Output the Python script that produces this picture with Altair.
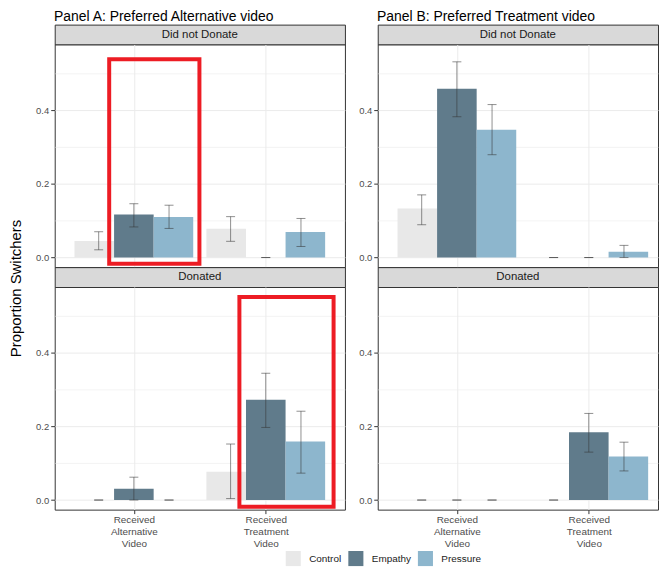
import altair as alt
import pandas as pd

FONT = "Liberation Sans"

panel_keys = ["A", "B"]
panel_titles = ["Panel A: Preferred Alternative video", "Panel B: Preferred Treatment video"]
row_labels = ["Did not Donate", "Donated"]
video_lines = [["Received", "Alternative", "Video"], ["Received", "Treatment", "Video"]]
groups = ["Control", "Empathy", "Pressure"]
colors = ["#E8E8E8", "#607B8B", "#8DB6CD"]

# order in each list: Alternative video (Control, Empathy, Pressure), Treatment video (Control, Empathy, Pressure)
a_notdon_mean = [0.045, 0.117, 0.110, 0.078, 0.0, 0.069]
a_notdon_lo = [0.021, 0.083, 0.079, 0.044, 0.0, 0.030]
a_notdon_hi = [0.070, 0.146, 0.142, 0.111, 0.0, 0.106]

a_don_mean = [0.0, 0.031, 0.0, 0.077, 0.272, 0.159]
a_don_lo = [0.0, 0.0, 0.0, 0.004, 0.197, 0.073]
a_don_hi = [0.0, 0.062, 0.0, 0.152, 0.344, 0.241]

b_notdon_mean = [0.133, 0.458, 0.347, 0.0, 0.0, 0.016]
b_notdon_lo = [0.089, 0.382, 0.279, 0.0, 0.0, 0.0]
b_notdon_hi = [0.170, 0.531, 0.415, 0.0, 0.0, 0.033]

b_don_mean = [0.0, 0.0, 0.0, 0.0, 0.184, 0.118]
b_don_lo = [0.0, 0.0, 0.0, 0.0, 0.130, 0.079]
b_don_hi = [0.0, 0.0, 0.0, 0.0, 0.235, 0.157]

# highlighted regions (red boxes)
hl_panel = ["A", "A"]
hl_row = ["Did not Donate", "Donated"]
hl_x1 = [0.813, 1.80]
hl_x2 = [1.497, 2.514]
hl_y1 = [-0.017, -0.018]
hl_y2 = [0.538, 0.551]

series = {
    ("A", "Did not Donate"): (a_notdon_mean, a_notdon_lo, a_notdon_hi),
    ("A", "Donated"): (a_don_mean, a_don_lo, a_don_hi),
    ("B", "Did not Donate"): (b_notdon_mean, b_notdon_lo, b_notdon_hi),
    ("B", "Donated"): (b_don_mean, b_don_lo, b_don_hi),
}

BAR_DODGE = 0.3
ERR_DODGE = 0.8 / 3
BAR_HALF = 0.15
CAP_HALF = 0.034

recs = []
for (p, r), (m, lo, hi) in series.items():
    for i in range(6):
        vid = i // 3 + 1
        gi = i % 3
        xc = vid + (gi - 1) * BAR_DODGE
        xe = vid + (gi - 1) * ERR_DODGE
        recs.append(dict(panel=p, row=r, group=groups[gi], mean=m[i], lo=lo[i], hi=hi[i],
                         xl=xc - BAR_HALF, xr=xc + BAR_HALF, xe=xe,
                         cl=xe - CAP_HALF, cr=xe + CAP_HALF))
df = pd.DataFrame(recs)
hl = pd.DataFrame(dict(panel=hl_panel, row=hl_row, x1=hl_x1, x2=hl_x2, y1=hl_y1, y2=hl_y2))

# panel B is cut at the right edge of the picture, like in the reference
WIDTHS = {"A": 292, "B": 282}
XDOMAINS = {"A": [0.4, 2.6], "B": [0.4, 0.4 + 282 * 2.2 / 292]}
H = 224
STRIP_H = 20

ys = alt.Scale(domain=[-0.026, 0.578], nice=False, zero=False)

label_expr = "datum.value == 1 ? {} : {}".format(
    "[" + ",".join("'%s'" % s for s in video_lines[0]) + "]",
    "[" + ",".join("'%s'" % s for s in video_lines[1]) + "]",
)

legend = alt.Legend(title=None, orient="none", direction="horizontal", legendX=232, legendY=529,
                    symbolType="square", symbolSize=230, symbolStrokeWidth=0, labelFontSize=10,
                    labelFont=FONT, labelColor="#1A1A1A", columnPadding=6, labelOffset=8,
                    padding=0)
color = alt.Color("group:N", scale=alt.Scale(domain=groups, range=colors), legend=legend)

major = "round(datum.value*10) % 2 == 0"


def make_plot(p, r, bottom, first_panel):
    W = WIDTHS[p]
    xs = alt.Scale(domain=XDOMAINS[p], nice=False, zero=False)
    d = df[(df.panel == p) & (df.row == r)]
    xaxis = alt.Axis(values=[1, 2], labelExpr=label_expr, grid=True, gridColor="#EBEBEB",
                     ticks=bottom, labels=bottom, domain=False, title=None, tickColor="#333333",
                     tickSize=4, labelFontSize=10, labelColor="#4D4D4D", labelFont=FONT,
                     labelLineHeight=12, labelPadding=1, labelBaseline="top")
    yaxis_kwargs = dict(values=[0, 0.1, 0.2, 0.3, 0.4, 0.5],
                        labelExpr=major + " ? format(datum.value, '.1f') : ''",
                        grid=True, gridColor="#EBEBEB",
                        gridWidth={"condition": {"test": major, "value": 1}, "value": 0.6},
                        tickOpacity={"condition": {"test": major, "value": 1}, "value": 0},
                        tickColor="#333333", tickSize=4, domain=False,
                        labelFontSize=9.5, labelColor="#4D4D4D", labelFont=FONT, labelPadding=2)
    if first_panel:
        yaxis = alt.Axis(title="Proportion Switchers", titleFontSize=15, titleFont=FONT,
                         titleFontWeight="normal", titleColor="#000000", titlePadding=12,
                         titleOpacity=1 if bottom else 0, titleY=1 if bottom else H / 2,
                         **yaxis_kwargs)
    else:
        yaxis = alt.Axis(title=None, **yaxis_kwargs)

    base = alt.Chart(d)
    bars = base.mark_rect().encode(
        x=alt.X("xl:Q", scale=xs, axis=xaxis),
        x2="xr:Q",
        y=alt.Y("mean:Q", scale=ys, axis=yaxis),
        y2=alt.datum(0),
        color=color,
    )
    err = base.mark_rule(color="#333333", opacity=0.55, strokeWidth=1).encode(
        x=alt.X("xe:Q", scale=xs), y=alt.Y("lo:Q", scale=ys), y2="hi:Q")
    cap_lo = base.mark_rule(color="#333333", opacity=0.55, strokeWidth=1).encode(
        x=alt.X("cl:Q", scale=xs), x2="cr:Q", y=alt.Y("lo:Q", scale=ys))
    cap_hi = base.mark_rule(color="#333333", opacity=0.55, strokeWidth=1).encode(
        x=alt.X("cl:Q", scale=xs), x2="cr:Q", y=alt.Y("hi:Q", scale=ys))
    layers = [bars, err, cap_lo, cap_hi]
    h = hl[(hl.panel == p) & (hl.row == r)]
    if len(h):
        box = alt.Chart(h).mark_rect(fillOpacity=0, stroke="#ED1C24", strokeWidth=4).encode(
            x=alt.X("x1:Q", scale=xs), x2="x2:Q", y=alt.Y("y1:Q", scale=ys), y2="y2:Q")
        layers.append(box)
    return alt.layer(*layers).properties(
        width=W, height=H, view=alt.ViewBackground(stroke="#333333", strokeWidth=1, fill="white"))


def make_strip(label, W):
    return alt.Chart(pd.DataFrame({"label": [label]})).mark_text(
        fontSize=11.5, font=FONT, color="#1A1A1A").encode(text="label:N").properties(
        width=W, height=STRIP_H,
        view=alt.ViewBackground(fill="#D9D9D9", stroke="#333333", strokeWidth=1))


panels = []
for k, (p, t) in enumerate(zip(panel_keys, panel_titles)):
    col = alt.vconcat(
        make_strip(row_labels[0], WIDTHS[p]),
        make_plot(p, row_labels[0], False, k == 0),
        make_strip(row_labels[1], WIDTHS[p]),
        make_plot(p, row_labels[1], True, k == 0),
        spacing=0, bounds="flush",
    ).properties(title=alt.TitleParams(t, anchor="start", fontSize=14, font=FONT,
                                       fontWeight="normal", color="#000000", offset=0,
                                       dx=46 if k == 0 else 19))
    panels.append(col)

chart = alt.hconcat(*panels, spacing=12).configure(
    font=FONT, padding={"left": 0, "top": 0, "right": 0, "bottom": 0}
).configure_view(stroke="#333333")

chart.save("out.html", embed_options={"renderer": "svg", "actions": False})
